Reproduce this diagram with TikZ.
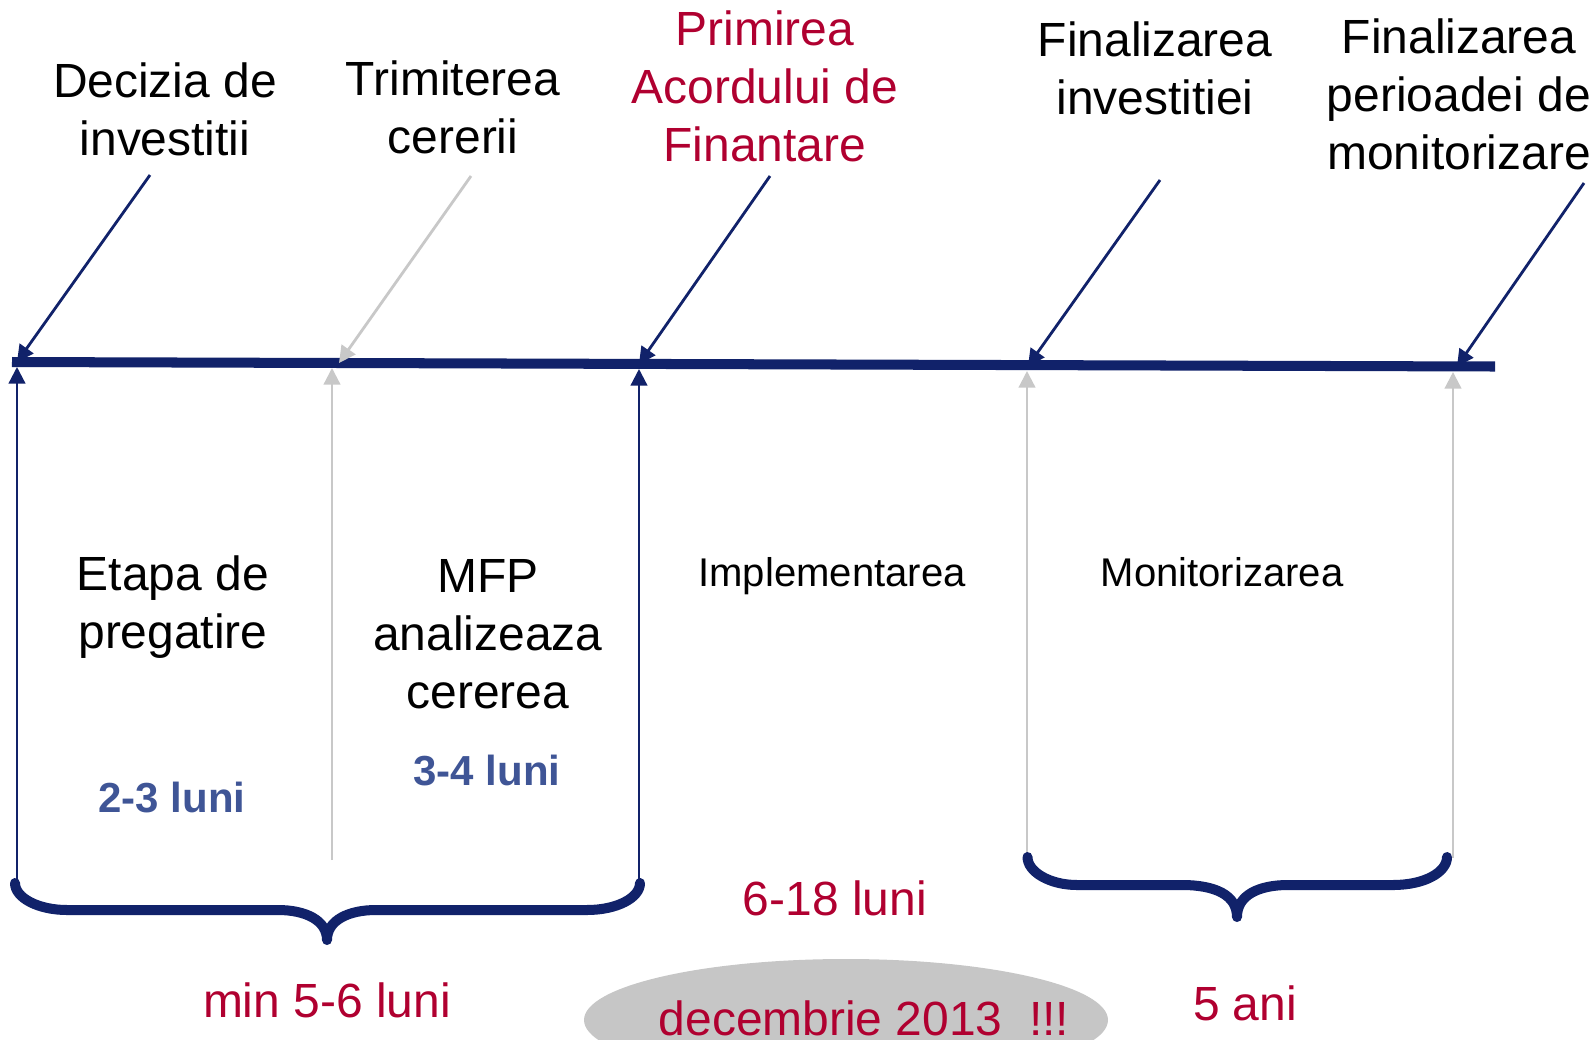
\documentclass[tikz,border=0pt]{standalone}
\usepackage{fontspec}
\setmainfont{Liberation Sans}
\usetikzlibrary{arrows.meta,positioning,shapes.geometric}
\definecolor{navy}{RGB}{17,34,106}
\definecolor{crimson}{RGB}{176,0,48}
\definecolor{slate}{RGB}{63,85,150}
\definecolor{pale}{RGB}{200,200,200}
\definecolor{ellgrey}{RGB}{198,198,198}

\begin{document}
\begin{tikzpicture}[
    big/.style={font=\fontsize{27.3}{33}\selectfont,align=center,inner sep=0pt,anchor=base},
    mid/.style={font=\fontsize{22.8}{27}\selectfont,inner sep=0pt,anchor=base},
    span/.style={font=\bfseries\fontsize{23.9}{28}\selectfont,text=slate,inner sep=0pt,anchor=base},
    pin/.style={line width=1.6pt,draw=navy,-{Triangle[length=9.5pt,width=9.5pt]}},
    pinpale/.style={pin,draw=pale},
    brace/.style={line width=5.7pt,draw=navy,line cap=round,line join=round}]
    \clip (0,0) rectangle (31.9,-20.78);

    % labels above the time line (anchored on the last line)
    \node[big] (dec) at (3.3,-3.1) {Decizia de\\investitii};
    \node[big] (trim) at (9.06,-3.06) {Trimiterea\\cererii};
    \node[big,text=crimson] (prim) at (15.3,-3.22) {Primirea\\Acordului de\\Finantare};
    \node[big] (finv) at (23.1,-2.29) {Finalizarea\\investitiei};
    \node[big] (fmon) at (29.18,-3.39) {Finalizarea\\perioadei de\\monitorizare};

    % time line
    \coordinate (t0) at (0.24,-7.24);
    \coordinate (t1) at (29.9,-7.33);
    \draw[navy,line width=5.7pt] (t0) -- (t1);

    \coordinate (d1) at (3.0,-3.5);
    \coordinate (d2) at (9.42,-3.52);
    \coordinate (d3) at (15.4,-3.52);
    \coordinate (d4) at (23.2,-3.6);
    \coordinate (d5) at (31.68,-3.66);
    \coordinate (p1) at (0.34,-7.24);
    \coordinate (p2) at (6.78,-7.26);
    \coordinate (p3) at (12.78,-7.28);
    \coordinate (p4) at (20.56,-7.32);
    \coordinate (p5) at (29.14,-7.33);

    \draw[pin] (d1) -- (p1);
    \draw[pinpale] (d2) -- (p2);
    \draw[pin] (d3) -- (p3);
    \draw[pin] (d4) -- (p4);
    \draw[pin] (d5) -- (p5);

    % arrows from below
    \coordinate (b1) at (0.34,-17.66);
    \coordinate (b2) at (6.64,-17.2);
    \coordinate (b3) at (12.78,-17.66);
    \coordinate (b4) at (20.54,-17.16);
    \coordinate (b5) at (29.06,-17.16);
    \coordinate (q1) at (0.34,-7.34);
    \coordinate (q2) at (6.64,-7.36);
    \coordinate (q3) at (12.78,-7.38);
    \coordinate (q4) at (20.54,-7.42);
    \coordinate (q5) at (29.06,-7.44);

    \draw[pin,line width=1.3pt] (b1) -- (q1);
    \draw[pinpale,line width=1.3pt] (b2) -- (q2);
    \draw[pin,line width=1.3pt] (b3) -- (q3);
    \draw[pinpale,line width=1.3pt] (b4) -- (q4);
    \draw[pinpale,line width=1.3pt] (b5) -- (q5);

    % phases
    \node[big] (etapa) at (3.46,-12.96) {Etapa de\\pregatire};
    \node[big] (mfp) at (9.76,-14.16) {MFP\\analizeaza\\cererea};
    \node[mid] (impl) at (16.64,-11.72) {Implementarea};
    \node[mid] (monit) at (24.44,-11.72) {Monitorizarea};
    \node[span] (l23) at (3.44,-16.24) {2-3 luni};
    \node[span] (l34) at (9.74,-15.7) {3-4 luni};

    % braces
    \draw[brace] (0.3,-17.66) .. controls (0.3,-17.96) and (0.77,-18.2) .. (1.34,-18.2)
        -- (5.56,-18.2) .. controls (6.1,-18.2) and (6.54,-18.4) .. (6.54,-18.8)
        .. controls (6.54,-18.4) and (6.98,-18.2) .. (7.52,-18.2)
        -- (11.74,-18.2) .. controls (12.33,-18.2) and (12.8,-17.96) .. (12.8,-17.66);
    \draw[brace] (20.55,-17.14) .. controls (20.55,-17.44) and (21.0,-17.7) .. (21.54,-17.7)
        -- (23.64,-17.7) .. controls (24.3,-17.7) and (24.74,-17.9) .. (24.74,-18.34)
        .. controls (24.74,-17.9) and (25.18,-17.7) .. (25.76,-17.7)
        -- (27.86,-17.7) .. controls (28.5,-17.7) and (28.94,-17.44) .. (28.94,-17.14);

    % durations
    \node[big,text=crimson] (l618) at (16.7,-18.3) {6-18 luni};
    \node[big,text=crimson] (l56) at (6.54,-20.34) {min 5-6 luni};
    \node[big,text=crimson] (ani) at (24.9,-20.4) {5 ani};
    \node[ellipse,fill=ellgrey,minimum width=10.48cm,minimum height=2.44cm] (ell) at (16.92,-20.4) {};
    \node[big,text=crimson] (dl) at (17.28,-20.7) {decembrie 2013\ \ !!!};

\end{tikzpicture}
\end{document}
